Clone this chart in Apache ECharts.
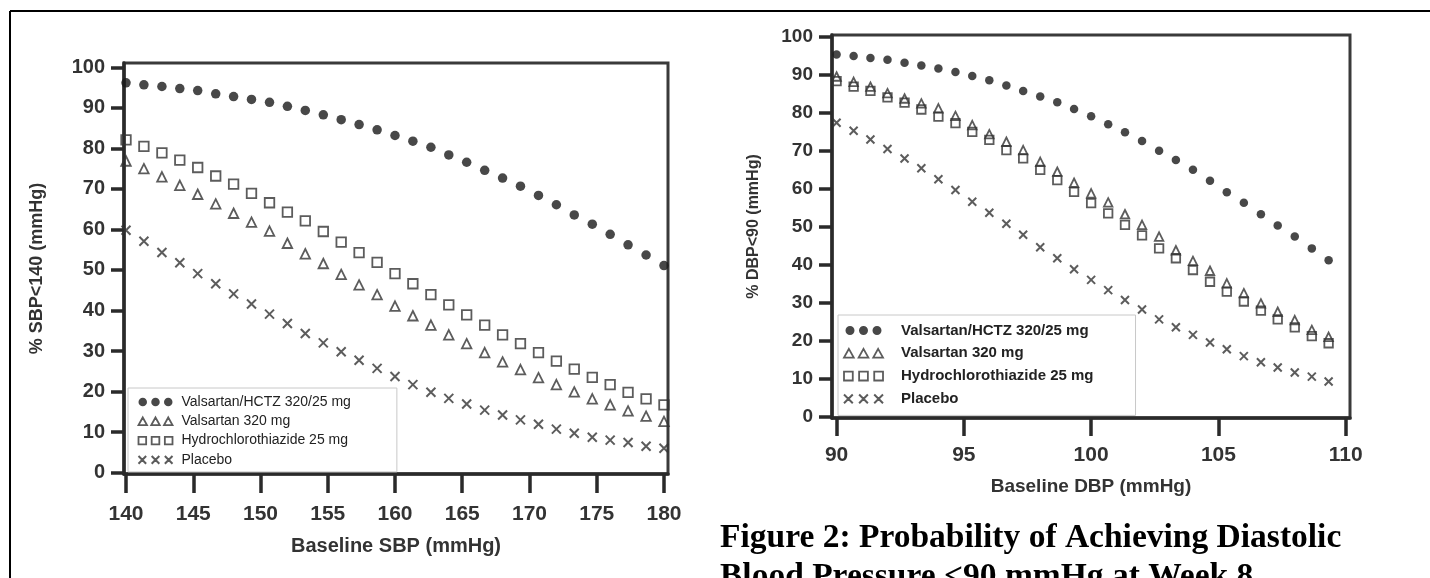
<!DOCTYPE html>
<html><head><meta charset="utf-8">
<script src="https://cdn.jsdelivr.net/npm/echarts@6/dist/echarts.min.js"></script>
<style>html,body{margin:0;padding:0;background:#fff}#c{width:1430px;height:578px}</style>
</head><body><div id="c"></div>
<script>
const seriesNames = ['Valsartan/HCTZ 320/25 mg', 'Valsartan 320 mg', 'Hydrochlorothiazide 25 mg', 'Placebo'];

// Left panel: baseline SBP
const sbpX = [140,141.33,142.67,144,145.33,146.67,148,149.33,150.67,152,153.33,154.67,156,157.33,158.67,160,161.33,162.67,164,165.33,166.67,168,169.33,170.67,172,173.33,174.67,176,177.33,178.67,180];
const sbpCombo = [96.2,95.7,95.3,94.8,94.3,93.5,92.8,92.1,91.4,90.4,89.4,88.3,87.1,85.9,84.6,83.2,81.8,80.3,78.4,76.6,74.6,72.7,70.7,68.4,66.1,63.6,61.3,58.8,56.2,53.7,51.1];
const sbpVals = [76.9,75.0,73.0,70.9,68.7,66.3,64.0,61.8,59.6,56.6,54.0,51.6,48.9,46.3,43.9,41.1,38.7,36.4,34.0,31.8,29.6,27.3,25.4,23.4,21.7,19.9,18.2,16.7,15.2,13.9,12.6];
const sbpHctz = [82.1,80.5,78.9,77.1,75.3,73.2,71.2,68.9,66.6,64.3,62.1,59.5,56.9,54.3,51.9,49.1,46.6,43.9,41.4,38.9,36.4,34.0,31.8,29.6,27.5,25.5,23.5,21.7,19.8,18.2,16.7];
const sbpPlacebo = [59.8,57.1,54.3,51.8,49.1,46.6,44.1,41.6,39.1,36.8,34.3,32.0,29.8,27.7,25.7,23.7,21.7,19.8,18.3,16.9,15.4,14.2,13.0,11.9,10.7,9.7,8.7,8.0,7.4,6.5,6.0];

// Right panel: baseline DBP
const dbpX = [90,90.67,91.33,92,92.67,93.33,94,94.67,95.33,96,96.67,97.33,98,98.67,99.33,100,100.67,101.33,102,102.67,103.33,104,104.67,105.33,106,106.67,107.33,108,108.67,109.33];
const dbpCombo = [95.4,95.0,94.5,94.0,93.2,92.5,91.7,90.8,89.7,88.6,87.2,85.8,84.3,82.8,81.0,79.1,77.0,74.9,72.6,70.0,67.6,65.0,62.1,59.1,56.3,53.3,50.3,47.4,44.3,41.2];
const dbpVals = [89.6,88.2,86.9,85.2,83.8,82.5,81.2,79.2,76.8,74.4,72.4,70.2,67.1,64.5,61.6,58.8,56.4,53.3,50.5,47.4,43.8,41.0,38.4,35.1,32.5,29.8,27.6,25.4,22.8,21.0];
const dbpHctz = [88.4,86.9,85.8,84.1,82.7,80.9,79.0,77.3,75.0,72.9,70.2,68.0,65.0,62.3,59.2,56.2,53.5,50.5,47.7,44.3,41.7,38.6,35.5,32.9,30.3,27.9,25.6,23.5,21.2,19.3];
const dbpPlacebo = [77.4,75.3,73.0,70.5,68.0,65.4,62.5,59.7,56.6,53.7,50.8,47.9,44.6,41.7,38.8,36.0,33.3,30.7,28.2,25.6,23.5,21.5,19.5,17.7,15.9,14.3,12.9,11.6,10.5,9.2];

// Tick labels
const sbpTicks = [140,145,150,155,160,165,170,175,180];
const dbpTicks = [90,95,100,105,110];
const pctTicks = [0,10,20,30,40,50,60,70,80,90,100];

const sbpXName = 'Baseline SBP (mmHg)';
const sbpYName = '% SBP<140 (mmHg)';
const dbpXName = 'Baseline DBP (mmHg)';
const dbpYName = '% DBP<90 (mmHg)';
const caption = ['Figure 2: Probability of Achieving Diastolic', 'Blood Pressure <90 mmHg at Week 8'];

// ---------- build ----------
const FONT = "'Liberation Sans', Arial, sans-serif";
const INK = '#2a2a2a';
const MARK = '#333';
const crossPath = 'path://M0,0L10,10M10,0L0,10';
const symbolDefs = [
  { symbol: 'circle', style: { color: '#1a1a1a', borderWidth: 0 },
    icon: 'path://M0,5A5,5 0 1,0 10,5A5,5 0 1,0 0,5ZM15,5A5,5 0 1,0 25,5A5,5 0 1,0 15,5ZM30,5A5,5 0 1,0 40,5A5,5 0 1,0 30,5Z' },
  { symbol: 'triangle', style: { color: 'rgba(0,0,0,0)', borderColor: MARK, borderWidth: 1.8 },
    icon: 'path://M5,0L10,9L0,9ZM20,0L25,9L15,9ZM35,0L40,9L30,9Z' },
  { symbol: 'rect', style: { color: 'rgba(0,0,0,0)', borderColor: MARK, borderWidth: 1.8 },
    icon: 'path://M0,0H9V9H0ZM15.5,0H24.5V9H15.5ZM31,0H40V9H31Z' },
  { symbol: crossPath, style: { color: 'rgba(0,0,0,0)', borderColor: MARK, borderWidth: 2 },
    icon: 'path://M0,0L9,9M9,0L0,9M15.5,0L24.5,9M24.5,0L15.5,9M31,0L40,9M40,0L31,9' }
];

function pairs(xs, ys) { return xs.map((x, i) => [x, ys[i]]); }

const sbpData = [sbpCombo, sbpVals, sbpHctz, sbpPlacebo];
const dbpData = [dbpCombo, dbpVals, dbpHctz, dbpPlacebo];

function axisCommon(ticks, labelSize, labelMargin, tickLen) {
  return {
    axisLine: { show: true, onZero: false, lineStyle: { color: INK, width: 3.5 } },
    axisTick: { show: true, inside: false, length: tickLen, customValues: ticks, lineStyle: { color: INK, width: 3.5 } },
    axisLabel: { customValues: ticks, fontFamily: FONT, fontWeight: 'bold', fontSize: labelSize, color: '#333', margin: labelMargin },
    splitLine: { show: false }
  };
}

const series = [];
[[sbpX, sbpData, 0, [9.5, 9.5, 9.5, 9]], [dbpX, dbpData, 1, [8.5, 8.5, 8.5, 8]]].forEach(([xs, data, gi, sizes]) => {
  data.forEach((ys, i) => {
    series.push({
      type: 'scatter', name: seriesNames[i], xAxisIndex: gi, yAxisIndex: gi,
      symbol: symbolDefs[i].symbol, symbolSize: sizes[i],
      itemStyle: symbolDefs[i].style, data: pairs(xs, ys), silent: true, z: 3 + (i === 1 ? 1 : 0)
    });
  });
});

function legendData() {
  return seriesNames.map((n, i) => ({ name: n, icon: symbolDefs[i].icon, itemStyle: symbolDefs[i].style }));
}

const option = {
  animation: false,
  backgroundColor: '#fff',
  grid: [
    { left: 124, top: 63, width: 544, height: 411, show: true, borderColor: '#3a3a3a', borderWidth: 3, backgroundColor: 'rgba(0,0,0,0)' },
    { left: 832, top: 35, width: 518, height: 383, show: true, borderColor: '#3a3a3a', borderWidth: 3, backgroundColor: 'rgba(0,0,0,0)' }
  ],
  xAxis: [
    Object.assign({ type: 'value', gridIndex: 0, min: 139.85, max: 180.3,
      name: sbpXName, nameLocation: 'middle', nameGap: 62,
      nameTextStyle: { fontFamily: FONT, fontWeight: 'bold', fontSize: 20, color: '#333' } },
      axisCommon(sbpTicks, 21, 30, 19)),
    Object.assign({ type: 'value', gridIndex: 1, min: 89.82, max: 110.17,
      name: dbpXName, nameLocation: 'middle', nameGap: 59,
      nameTextStyle: { fontFamily: FONT, fontWeight: 'bold', fontSize: 19, color: '#333' } },
      axisCommon(dbpTicks, 21, 27, 18))
  ],
  yAxis: [
    Object.assign({ type: 'value', gridIndex: 0, min: -0.37, max: 101.1,
      name: sbpYName, nameLocation: 'middle', nameGap: 78,
      nameTextStyle: { fontFamily: FONT, fontWeight: 'bold', fontSize: 18, color: '#333' } },
      axisCommon(pctTicks, 20, 19, 13)),
    Object.assign({ type: 'value', gridIndex: 1, min: -0.4, max: 100.53,
      name: dbpYName, nameLocation: 'middle', nameGap: 70,
      nameTextStyle: { fontFamily: FONT, fontWeight: 'bold', fontSize: 16, color: '#333' } },
      axisCommon(pctTicks, 19, 19, 13))
  ],
  legend: [
    { data: legendData(), orient: 'vertical', left: 128, top: 388, selectedMode: false,
      itemWidth: 34, itemHeight: 9, itemGap: 3.3,
      padding: [6, 46, 4, 9.5], backgroundColor: '#fff', borderColor: '#c8c8c8', borderWidth: 1,
      textStyle: { fontFamily: FONT, fontSize: 14, color: '#222', lineHeight: 16, padding: [0, 0, 0, 4] } },
    { data: legendData(), orient: 'vertical', left: 838, top: 315, selectedMode: false,
      itemWidth: 39, itemHeight: 9, itemGap: 5.8,
      padding: [7, 42, 8, 5], backgroundColor: '#fff', borderColor: '#c8c8c8', borderWidth: 1,
      textStyle: { fontFamily: FONT, fontSize: 15, fontWeight: 'bold', color: '#222', lineHeight: 17, padding: [0, 0, 0, 13] } }
  ],
  title: {
    text: caption.join('\n'), left: 720, top: 519, padding: 0,
    textStyle: { fontFamily: "'Liberation Serif', 'Times New Roman', serif", fontWeight: 'bold', fontSize: 33.5, lineHeight: 39, color: '#000' }
  },
  graphic: [
    { type: 'line', shape: { x1: 10, y1: 11, x2: 1430, y2: 11 }, style: { stroke: '#000', lineWidth: 2 }, silent: true },
    { type: 'line', shape: { x1: 10, y1: 11, x2: 10, y2: 578 }, style: { stroke: '#000', lineWidth: 2 }, silent: true }
  ],
  series: series
};

const chart = echarts.init(document.getElementById('c'), null, { renderer: 'canvas' });
chart.setOption(option);
</script>
</body></html>
